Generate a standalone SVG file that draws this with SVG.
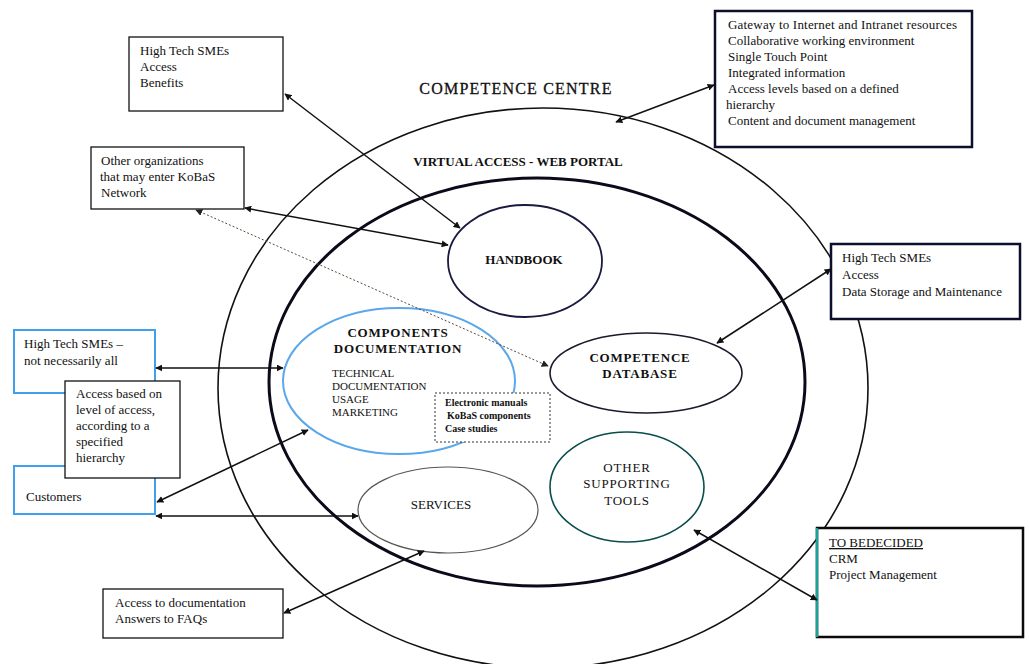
<svg xmlns="http://www.w3.org/2000/svg" width="1029" height="664" viewBox="0 0 1029 664">
<style>
.t{font-family:"Liberation Serif","Times New Roman",serif;font-size:13px;fill:#111}
.b{font-weight:bold}
.sm{font-size:11px}
.xs{font-size:10px}
.big{font-size:16px;letter-spacing:1.2px}
.box{fill:#fff;stroke:#111;stroke-width:1.3}
.nav{fill:#fff;stroke:#0d0d2e;stroke-width:2.5}
.blu{fill:#fff;stroke:#3fa0f0;stroke-width:2}
.ln{stroke:#111;stroke-width:1.5;fill:none;marker-start:url(#ah);marker-end:url(#ah)}
</style>
<defs>
<marker id="ah" viewBox="0 0 10 10" refX="9" refY="5" markerWidth="7" markerHeight="7" markerUnits="userSpaceOnUse" orient="auto-start-reverse">
<path d="M0,0 L10,5 L0,10 Z" fill="#111"/>
</marker>
<marker id="ahs" viewBox="0 0 10 10" refX="9" refY="5" markerWidth="7" markerHeight="7" markerUnits="userSpaceOnUse" orient="auto-start-reverse">
<path d="M0,0 L10,5 L0,10 Z" fill="#222"/>
</marker>
</defs>
<rect width="1029" height="664" fill="#fff"/>

<g id="competence-centre">
<ellipse cx="543" cy="388" rx="325" ry="280" fill="none" stroke="#111" stroke-width="1.6"/>
<text class="t big" x="516" y="94" text-anchor="middle" stroke="#111" stroke-width="0.3">COMPETENCE  CENTRE</text>
</g>

<g id="web-portal">
<ellipse cx="537" cy="382" rx="268" ry="204" fill="none" stroke="#0a0a1a" stroke-width="3"/>
<text class="t b" x="518" y="166" text-anchor="middle">VIRTUAL ACCESS - WEB PORTAL</text>
</g>

<g id="handbook">
<ellipse cx="525" cy="261" rx="77" ry="56" fill="#fff" stroke="#1a1a40" stroke-width="1.8"/>
<text class="t b" x="524" y="264" text-anchor="middle">HANDBOOK</text>
</g>

<g id="components-documentation">
<ellipse cx="399" cy="381" rx="116" ry="73" fill="#fff" stroke="#5aa7ea" stroke-width="2"/>
<text class="t b" x="398" y="337" text-anchor="middle" letter-spacing="0.8">COMPONENTS</text>
<text class="t b" x="398" y="353" text-anchor="middle" letter-spacing="0.8">DOCUMENTATION</text>
<text class="t sm" x="332" y="377">TECHNICAL</text>
<text class="t sm" x="332" y="390">DOCUMENTATION</text>
<text class="t sm" x="332" y="403">USAGE</text>
<text class="t sm" x="332" y="416">MARKETING</text>
</g>

<g id="electronic-manuals">
<rect x="435" y="393" width="115" height="49" fill="#fff" stroke="#333" stroke-width="1" stroke-dasharray="2,2"/>
<text class="t b xs" x="445" y="406">Electronic manuals</text>
<text class="t b xs" x="447" y="419">KoBaS components</text>
<text class="t b xs" x="445" y="432">Case studies</text>
</g>

<g id="competence-database">
<ellipse cx="646" cy="373" rx="96" ry="40" fill="#fff" stroke="#1a1a2e" stroke-width="1.6"/>
<text class="t b" x="640" y="362" text-anchor="middle" letter-spacing="0.8">COMPETENCE</text>
<text class="t b" x="640" y="378" text-anchor="middle" letter-spacing="0.8">DATABASE</text>
</g>

<g id="other-supporting-tools">
<ellipse cx="627" cy="487" rx="77" ry="55" fill="#fff" stroke="#0b4d4d" stroke-width="1.6"/>
<text class="t" x="627" y="472" text-anchor="middle" letter-spacing="0.8">OTHER</text>
<text class="t" x="627" y="488" text-anchor="middle" letter-spacing="0.8">SUPPORTING</text>
<text class="t" x="627" y="505" text-anchor="middle" letter-spacing="0.8">TOOLS</text>
</g>

<g id="services">
<ellipse cx="448" cy="510" rx="90" ry="43" fill="#fff" stroke="#555" stroke-width="1.2"/>
<text class="t" x="441" y="509" text-anchor="middle">SERVICES</text>
</g>

<g id="box-benefits">
<rect class="box" x="129" y="37" width="154" height="74"/>
<text class="t" x="140" y="55">High Tech SMEs</text>
<text class="t" x="140" y="71">Access</text>
<text class="t" x="140" y="87">Benefits</text>
</g>

<g id="box-other-orgs">
<rect class="box" x="91" y="147" width="153" height="62"/>
<text class="t" x="101" y="165">Other organizations</text>
<text class="t" x="100" y="181">that may enter KoBaS</text>
<text class="t" x="101" y="197">Network</text>
</g>

<g id="box-portal-features">
<rect class="nav" x="715" y="11" width="257" height="136"/>
<text class="t" x="728" y="29" textLength="229">Gateway to Internet and Intranet resources</text>
<text class="t" x="728" y="45">Collaborative working environment</text>
<text class="t" x="728" y="61">Single Touch Point</text>
<text class="t" x="728" y="77">Integrated information</text>
<text class="t" x="728" y="93">Access levels based on a defined</text>
<text class="t" x="726" y="109">hierarchy</text>
<text class="t" x="728" y="125">Content and document management</text>
</g>

<g id="box-data-storage">
<rect class="nav" x="831" y="244" width="189" height="75"/>
<text class="t" x="842" y="262">High Tech SMEs</text>
<text class="t" x="842" y="279">Access</text>
<text class="t" x="842" y="296">Data Storage and Maintenance</text>
</g>

<g id="box-to-be-decided">
<rect x="817" y="528" width="206" height="109" fill="#fff" stroke="#0a0a0a" stroke-width="2.5"/>
<line x1="817" y1="528" x2="817" y2="637" stroke="#1aa39a" stroke-width="2.5"/>
<text class="t" x="829" y="547" text-decoration="underline">TO BEDECIDED</text>
<text class="t" x="829" y="563">CRM</text>
<text class="t" x="829" y="579">Project Management</text>
</g>

<g id="box-smes-not-all">
<rect class="blu" x="14" y="330" width="141" height="63"/>
<text class="t" x="24" y="348">High Tech SMEs –</text>
<text class="t" x="24" y="365">not necessarily all</text>
</g>

<g id="box-customers">
<rect class="blu" x="14" y="466" width="141" height="48"/>
<text class="t" x="26" y="501">Customers</text>
</g>

<g id="box-access-level">
<rect class="box" x="65" y="381" width="115" height="97"/>
<text class="t" x="76" y="398">Access based on</text>
<text class="t" x="76" y="414">level of access,</text>
<text class="t" x="76" y="430">according to a</text>
<text class="t" x="76" y="446">specified</text>
<text class="t" x="76" y="462">hierarchy</text>
</g>

<g id="box-faq">
<rect class="box" x="103" y="589" width="180" height="49"/>
<text class="t" x="115" y="607">Access to documentation</text>
<text class="t" x="115" y="623">Answers to FAQs</text>
</g>

<g id="connectors">
<line class="ln" x1="285" y1="94" x2="460" y2="228"/>
<line class="ln" x1="245" y1="208" x2="448" y2="245"/>
<line x1="196" y1="210" x2="548" y2="366" stroke="#5a4a3a" stroke-width="1" stroke-dasharray="2,2" marker-start="url(#ahs)" marker-end="url(#ahs)"/>
<line class="ln" x1="714" y1="85" x2="616" y2="122"/>
<line class="ln" x1="831" y1="269" x2="717" y2="343"/>
<line class="ln" x1="694" y1="530" x2="817" y2="600"/>
<line class="ln" x1="156" y1="368" x2="283" y2="368"/>
<line class="ln" x1="157" y1="502" x2="308" y2="430"/>
<line class="ln" x1="156" y1="516" x2="358" y2="516"/>
<line class="ln" x1="284" y1="613" x2="424" y2="551"/>
</g>
</svg>
